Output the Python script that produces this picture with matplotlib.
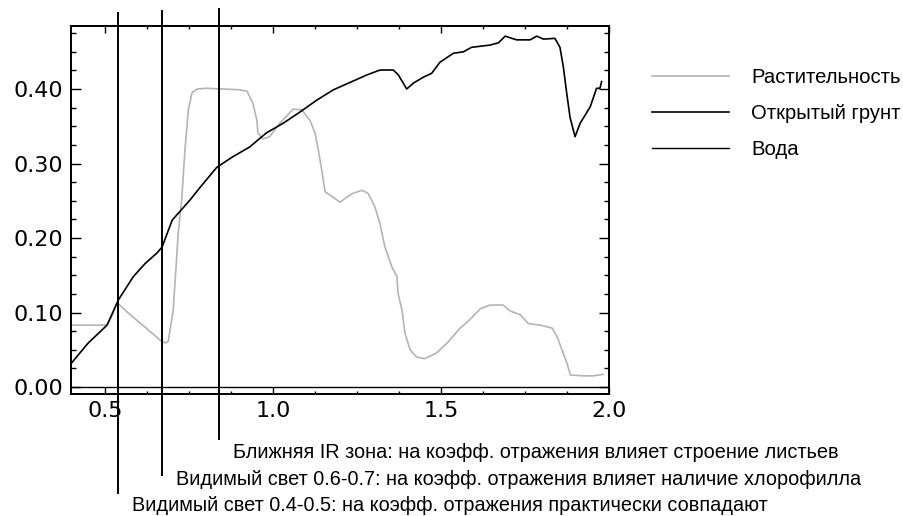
import numpy as np
import matplotlib
matplotlib.use("Agg")
import matplotlib.pyplot as plt
from matplotlib.ticker import MultipleLocator, FormatStrFormatter

# Растительность (серая кривая)
veg_x = [0.40, 0.45, 0.506, 0.52, 0.536, 0.575, 0.62, 0.664, 0.68, 0.688,
         0.703, 0.718, 0.728, 0.738, 0.748, 0.759, 0.774, 0.80, 0.85, 0.90,
         0.923, 0.94, 0.952, 0.955, 0.97, 0.99, 1.02, 1.06, 1.086, 1.11,
         1.125, 1.135, 1.145, 1.155, 1.178, 1.20, 1.22, 1.238, 1.265, 1.283,
         1.303, 1.318, 1.333, 1.354, 1.369, 1.372, 1.384, 1.393, 1.408, 1.428,
         1.452, 1.488, 1.518, 1.557, 1.587, 1.617, 1.646, 1.685, 1.706, 1.736,
         1.76, 1.796, 1.831, 1.846, 1.86, 1.875, 1.885, 1.923, 1.953, 1.982]
veg_y = [0.083, 0.083, 0.083, 0.095, 0.113, 0.097, 0.080, 0.063, 0.059, 0.061,
         0.103, 0.207, 0.250, 0.318, 0.372, 0.395, 0.400, 0.401, 0.400, 0.399,
         0.397, 0.381, 0.358, 0.341, 0.333, 0.336, 0.354, 0.373, 0.372, 0.358,
         0.341, 0.318, 0.291, 0.262, 0.255, 0.248, 0.255, 0.260, 0.264, 0.260,
         0.242, 0.220, 0.188, 0.161, 0.148, 0.126, 0.103, 0.072, 0.050, 0.040,
         0.038, 0.046, 0.059, 0.079, 0.091, 0.105, 0.110, 0.110, 0.102, 0.097,
         0.085, 0.083, 0.079, 0.067, 0.050, 0.032, 0.016, 0.015, 0.015, 0.017]

# Открытый грунт (чёрная кривая)
soil_x = [0.40, 0.45, 0.506, 0.54, 0.584, 0.62, 0.655, 0.67, 0.70, 0.753,
          0.783, 0.833, 0.88, 0.93, 0.98, 1.03, 1.08, 1.13, 1.18, 1.23,
          1.28, 1.3185, 1.358, 1.373, 1.398, 1.418, 1.448, 1.472, 1.497, 1.537,
          1.567, 1.591, 1.646, 1.671, 1.691, 1.725, 1.765, 1.785, 1.805, 1.839,
          1.854, 1.864, 1.874, 1.884, 1.899, 1.914, 1.944, 1.963, 1.973, 1.978]
soil_y = [0.032, 0.059, 0.083, 0.117, 0.148, 0.166, 0.180, 0.188, 0.224, 0.251,
          0.268, 0.295, 0.309, 0.322, 0.341, 0.354, 0.369, 0.385, 0.399, 0.409,
          0.419, 0.4255, 0.4255, 0.419, 0.400, 0.408, 0.416, 0.421, 0.436, 0.448,
          0.450, 0.456, 0.459, 0.462, 0.471, 0.466, 0.466, 0.471, 0.467, 0.468,
          0.456, 0.430, 0.395, 0.362, 0.336, 0.354, 0.376, 0.401, 0.401, 0.410]

# Вода
water_x = [0.40, 2.00]
water_y = [0.0, 0.0]

series_names = ["Растительность", "Открытый грунт", "Вода"]

# Границы зон и подписи к ним
zone_x = [0.54, 0.67, 0.84]
zone_labels = [
    "Видимый свет 0.4-0.5: на коэфф. отражения практически совпадают",
    "Видимый свет 0.6-0.7: на коэфф. отражения влияет наличие хлорофилла",
    "Ближняя IR зона: на коэфф. отражения влияет строение листьев",
]

fig = plt.figure(figsize=(9.04, 5.16), dpi=100)
ax = fig.add_axes([71.4 / 904, 122 / 516, (609 - 71.4) / 904, 368 / 516])

ax.plot(veg_x, veg_y, color="#b4b4b4", lw=1.2, label=series_names[0])
ax.plot(soil_x, soil_y, color="black", lw=1.2, label=series_names[1])
ax.plot(water_x, water_y, color="black", lw=1.0, label=series_names[2])

ax.set_xlim(0.4, 2.0)
ax.set_ylim(-0.0094, 0.4846)

ax.xaxis.set_major_locator(MultipleLocator(0.5))
ax.xaxis.set_minor_locator(MultipleLocator(0.125))
ax.yaxis.set_major_locator(MultipleLocator(0.1))
ax.yaxis.set_minor_locator(MultipleLocator(0.025))
ax.xaxis.set_major_formatter(FormatStrFormatter("%.1f"))
ax.yaxis.set_major_formatter(FormatStrFormatter("%.2f"))

ax.tick_params(which="both", direction="in", top=True, right=True, width=1.0,
               labelsize=16, colors="black")
ax.tick_params(axis="y", which="major", length=7, pad=6)
ax.tick_params(axis="y", which="minor", length=3.5)
ax.tick_params(axis="x", which="major", length=5, pad=5)
ax.tick_params(axis="x", which="minor", length=2)
for sp in ax.spines.values():
    sp.set_linewidth(1.4)

# вертикальные линии зон выходят за пределы осей
tr = ax.get_xaxis_transform()
line_top = [1.035, 1.041, 1.046]
line_bottom = [-0.269, -0.220, -0.122]
text_y = [-0.302, -0.231, -0.158]
for i in range(3):
    ax.plot([zone_x[i], zone_x[i]], [line_bottom[i], line_top[i]], color="black",
            lw=1.4, transform=tr, clip_on=False)
    ax.annotate(zone_labels[i], xy=(zone_x[i], text_y[i]), xycoords=tr,
                xytext=(10, 0), textcoords="offset points", ha="left", va="center",
                fontsize=14.3, family="Liberation Sans")

leg = ax.legend(loc="upper left", bbox_to_anchor=(652 / 904, 1 - 68 / 516),
                bbox_transform=fig.transFigure, frameon=False, borderpad=0,
                borderaxespad=0, handlelength=3.8, handletextpad=1.1,
                labelspacing=0.85, prop={"family": "Liberation Sans", "size": 14.6})

fig.savefig("out.png", dpi=100)
